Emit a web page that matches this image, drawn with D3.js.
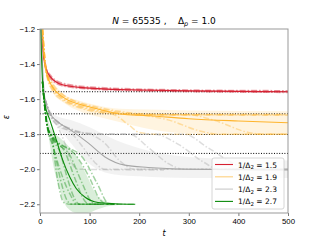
<!DOCTYPE html>
<html>
<head>
<meta charset="utf-8">
<script src="https://cdn.jsdelivr.net/npm/d3@7"></script>
<style>
  html, body { margin: 0; padding: 0; background: #fff; overflow: hidden; }
  svg { display: block; font-family: "DejaVu Sans", sans-serif; }
</style>
</head>
<body>
<div id="chart"></div>
<script>
// --- data --------------------------------------------------------------
const xTicks = [0, 100, 200, 300, 400, 500];
const yTicks = [-2.2, -2.0, -1.8, -1.6, -1.4, -1.2];
const refLevels = [-1.558, -1.684, -1.802, -1.910];

const seriesNames = ['1.5', '1.9', '2.3', '2.7'];
const seriesColors = ['#d62031', '#ffb52e', '#a6a6a6', '#0a8a0a'];

// mean curves [t, eps]
const redMean = [[1,-1.1],[3,-1.2],[6,-1.33],[10,-1.4],[20,-1.47],[47,-1.52],[80,-1.533],[115,-1.54],[200,-1.548],[300,-1.553],[500,-1.558]];
const orangeMean = [[2,-1.1],[5,-1.2],[8,-1.35],[13,-1.45],[25,-1.53],[47,-1.59],[80,-1.63],[115,-1.655],[160,-1.685],[220,-1.695],[300,-1.712],[400,-1.725],[500,-1.735]];
const grayMean = [[2,-1.15],[5,-1.4],[10,-1.6],[20,-1.68],[36,-1.73],[62,-1.777],[97,-1.85],[131,-1.93],[171,-1.977],[218,-1.99],[300,-2.0],[500,-2.005]];
const greenMean = [[1,-1.15],[3,-1.35],[6,-1.55],[10,-1.63],[20,-1.72],[33,-1.834],[46,-1.95],[60,-2.045],[73,-2.11],[91,-2.16],[117,-2.19],[150,-2.197],[192,-2.2]];

// spread bands [t, lo, hi]
const redBand = [[3,-1.21,-1.19],[10,-1.415,-1.385],[20,-1.485,-1.46],[47,-1.53,-1.51],[115,-1.548,-1.532],[300,-1.56,-1.546],[500,-1.564,-1.552]];
const orangeBand = [[5,-1.21,-1.19],[13,-1.47,-1.43],[25,-1.56,-1.5],[47,-1.62,-1.57],[80,-1.67,-1.61],[115,-1.7,-1.635],[160,-1.73,-1.655],[220,-1.77,-1.66],[300,-1.795,-1.665],[500,-1.8,-1.67]];
const grayBand = [[10,-1.61,-1.59],[20,-1.7,-1.66],[36,-1.76,-1.7],[62,-1.85,-1.72],[100,-1.97,-1.76],[150,-2.03,-1.83],[200,-2.04,-1.88],[300,-2.05,-1.93],[500,-2.05,-1.95]];
const greenBand = [[10,-1.65,-1.61],[15,-1.76,-1.7],[25,-1.95,-1.78],[40,-2.12,-1.82],[55,-2.22,-1.86],[75,-2.25,-1.93],[95,-2.25,-2.04],[115,-2.23,-2.15],[140,-2.21,-2.19],[192,-2.2,-2.2]];

// individual runs
const redRuns = [
  [[3,-1.19],[10,-1.39],[20,-1.46],[47,-1.51],[115,-1.533],[300,-1.548],[500,-1.552]],
  [[3,-1.21],[10,-1.41],[20,-1.48],[47,-1.525],[115,-1.545],[300,-1.557],[500,-1.562]],
  [[3,-1.2],[10,-1.4],[20,-1.47],[47,-1.518],[115,-1.54],[300,-1.552],[500,-1.556]]
];
const orangeRuns = [
  [[5,-1.2],[13,-1.44],[25,-1.52],[47,-1.58],[80,-1.625],[115,-1.65],[160,-1.675],[220,-1.688],[300,-1.69],[500,-1.69]],
  [[5,-1.2],[13,-1.45],[25,-1.53],[47,-1.59],[80,-1.635],[115,-1.66],[160,-1.68],[200,-1.69],[500,-1.692]],
  [[5,-1.2],[13,-1.45],[25,-1.54],[47,-1.6],[80,-1.645],[115,-1.67],[150,-1.69],[180,-1.75],[200,-1.79],[230,-1.8],[500,-1.8]],
  [[5,-1.2],[13,-1.46],[25,-1.55],[47,-1.61],[80,-1.65],[115,-1.675],[200,-1.69],[260,-1.72],[320,-1.78],[360,-1.8],[500,-1.8]],
  [[5,-1.2],[13,-1.45],[25,-1.53],[47,-1.6],[80,-1.64],[115,-1.665],[200,-1.688],[300,-1.69],[350,-1.72],[420,-1.79],[450,-1.8],[500,-1.8]],
  [[5,-1.2],[13,-1.44],[25,-1.51],[47,-1.575],[80,-1.62],[115,-1.645],[160,-1.67],[240,-1.688],[500,-1.688]]
];
const grayRuns = [
  [[10,-1.6],[20,-1.68],[36,-1.73],[62,-1.77],[100,-1.795],[150,-1.8],[290,-1.8],[340,-1.88],[400,-1.98],[430,-2.0],[500,-2.0]],
  [[10,-1.6],[20,-1.69],[36,-1.76],[50,-1.85],[62,-1.95],[75,-2.0],[250,-2.005]],
  [[10,-1.6],[20,-1.68],[36,-1.74],[62,-1.78],[100,-1.8],[130,-1.85],[160,-1.95],[190,-2.0],[500,-2.0]],
  [[10,-1.6],[20,-1.68],[36,-1.73],[62,-1.775],[100,-1.8],[180,-1.8],[220,-1.88],[260,-1.97],[290,-2.0],[500,-2.0]],
  [[10,-1.6],[20,-1.69],[36,-1.75],[62,-1.79],[80,-1.85],[110,-1.96],[130,-2.0],[400,-2.0]],
  [[10,-1.6],[20,-1.68],[36,-1.73],[62,-1.77],[100,-1.8],[230,-1.8],[280,-1.86],[330,-1.96],[360,-2.0],[500,-2.0]]
];
const greenRuns = [
  [[5,-1.5],[15,-1.76],[25,-1.85],[35,-1.98],[45,-2.1],[55,-2.18],[65,-2.2],[190,-2.2]],
  [[5,-1.5],[15,-1.76],[25,-1.83],[40,-1.9],[55,-2.05],[70,-2.17],[80,-2.2],[150,-2.2]],
  [[5,-1.5],[15,-1.76],[25,-1.82],[50,-1.9],[70,-2.05],[90,-2.18],[100,-2.2],[130,-2.2]],
  [[5,-1.5],[15,-1.76],[25,-1.82],[60,-1.92],[85,-2.08],[105,-2.19],[115,-2.2],[140,-2.2]],
  [[5,-1.5],[15,-1.76],[25,-1.81],[75,-1.93],[100,-2.05],[120,-2.17],[135,-2.2],[150,-2.2]],
  [[5,-1.5],[15,-1.76],[25,-1.82],[30,-1.95],[38,-2.1],[48,-2.19],[60,-2.2],[120,-2.2]],
  [[5,-1.5],[15,-1.76],[25,-1.81],[90,-1.95],[115,-2.08],[140,-2.2],[150,-2.2]],
  [[5,-1.5],[15,-1.77],[25,-1.86],[40,-2.0],[60,-2.14],[75,-2.2],[160,-2.2]]
];

const series = [
  { mean: redMean, band: redBand, runs: redRuns },
  { mean: orangeMean, band: orangeBand, runs: orangeRuns },
  { mean: grayMean, band: grayBand, runs: grayRuns },
  { mean: greenMean, band: greenBand, runs: greenRuns }
];

// --- layout ------------------------------------------------------------
const width = 320, height = 240;
const margin = { top: 29, right: 32, bottom: 27, left: 40 };
const innerWidth = width - margin.left - margin.right;
const innerHeight = height - margin.top - margin.bottom;

const svg = d3.select('#chart').append('svg')
    .attr('width', width)
    .attr('height', height);

const g = svg.append('g')
    .attr('transform', `translate(${margin.left},${margin.top})`);

const xScale = d3.scaleLinear().domain([0, 500]).range([0, innerWidth]);
const yScale = d3.scaleLinear().domain([-2.25, -1.2]).range([innerHeight, 0]);

g.append('clipPath').attr('id', 'clip')
  .append('rect')
    .attr('width', innerWidth)
    .attr('height', innerHeight);

const plot = g.append('g').attr('clip-path', 'url(#clip)');

const line = d3.line()
    .x(d => xScale(d[0]))
    .y(d => yScale(d[1]))
    .curve(d3.curveMonotoneX);

const area = d3.area()
    .x(d => xScale(d[0]))
    .y0(d => yScale(d[1]))
    .y1(d => yScale(d[2]))
    .curve(d3.curveMonotoneX);

// reference levels (dotted)
plot.selectAll('.ref')
    .data(refLevels)
    .enter()
    .append('line')
    .attr('class', 'ref')
    .attr('x1', 0)
    .attr('x2', innerWidth)
    .attr('y1', d => yScale(d))
    .attr('y2', d => yScale(d))
    .attr('stroke', '#000')
    .attr('stroke-width', 1)
    .attr('stroke-dasharray', '1,1.6');

series.forEach((s, i) => {
    const color = seriesColors[i];

    plot.selectAll(`.run-${i}`)
        .data(s.runs)
        .enter()
        .append('path')
        .attr('class', `run-${i}`)
        .attr('d', line)
        .attr('fill', 'none')
        .attr('stroke', color)
        .attr('stroke-width', 1.5)
        .attr('stroke-dasharray', '6,2,1.5,2')
        .attr('opacity', 0.38);

    plot.append('path')
        .datum(s.band)
        .attr('d', area)
        .attr('fill', color)
        .attr('opacity', 0.15);

    plot.append('path')
        .datum(s.mean)
        .attr('d', line)
        .attr('fill', 'none')
        .attr('stroke', color)
        .attr('stroke-width', 1.1);
});

// axes
const fmt = d => d3.format('.1f')(d).replace('-', '\u2212');

g.append('g')
    .attr('transform', `translate(0,${innerHeight})`)
    .call(d3.axisBottom(xScale).tickValues(xTicks).tickSize(3).tickPadding(2))
    .call(a => a.select('.domain').remove());

g.append('g')
    .call(d3.axisLeft(yScale).tickValues(yTicks).tickFormat(fmt).tickSize(3).tickPadding(2))
    .call(a => a.select('.domain').remove());

g.selectAll('.tick text')
    .style('font-size', '7.8px')
    .style('fill', '#000');

g.selectAll('.tick line')
    .style('stroke', '#555')
    .style('stroke-width', 0.8);

// frame
g.append('rect')
    .attr('width', innerWidth)
    .attr('height', innerHeight)
    .attr('fill', 'none')
    .attr('stroke', '#999')
    .attr('stroke-width', 1);

// labels
g.append('text')
    .attr('x', innerWidth / 2)
    .attr('y', innerHeight + 23)
    .style('text-anchor', 'middle')
    .style('font-size', '8px')
    .style('font-style', 'italic')
    .style('fill', '#000')
    .text('t');

g.append('text')
    .attr('transform', 'rotate(-90)')
    .attr('x', -innerHeight / 2 + 4)
    .attr('y', -31)
    .style('text-anchor', 'middle')
    .style('font-size', '8px')
    .style('font-style', 'italic')
    .style('fill', '#000')
    .text('ε');

// title
const title = svg.append('text')
    .attr('x', margin.left + innerWidth / 2)
    .attr('y', 24)
    .style('text-anchor', 'middle')
    .style('font-size', '9px')
    .style('fill', '#000')
    .style('white-space', 'pre');
title.append('tspan').style('font-style', 'italic').text('N');
title.append('tspan').text(' = 65535 ,    \u0394');
title.append('tspan').style('font-style', 'italic').style('font-size', '6.5px').attr('dy', 2).text('p');
title.append('tspan').attr('dy', -2).text(' = 1.0');

// legend
const legend = g.append('g')
    .attr('transform', `translate(${172},${129})`);

legend.append('rect')
    .attr('width', 72)
    .attr('height', 51)
    .attr('rx', 2)
    .attr('fill', '#fff')
    .attr('fill-opacity', 0.8)
    .attr('stroke', '#ccc')
    .attr('stroke-width', 0.8);

seriesNames.forEach((name, i) => {
    const row = legend.append('g')
        .attr('transform', `translate(0,${6.5 + i * 12.3})`);

    row.append('line')
        .attr('x1', 3)
        .attr('x2', 21)
        .attr('stroke', seriesColors[i])
        .attr('stroke-width', 1.1)
        .attr('opacity', i === 1 || i === 2 ? 0.6 : 1);

    const t = row.append('text')
        .attr('x', 26)
        .attr('y', 3)
        .style('font-size', '7.5px')
        .style('fill', '#000');
    t.append('tspan').text('1/\u0394');
    t.append('tspan').style('font-size', '5.5px').attr('dy', 1.5).text('2');
    t.append('tspan').attr('dy', -1.5).text(' = ' + name);
});
</script>
</body>
</html>
